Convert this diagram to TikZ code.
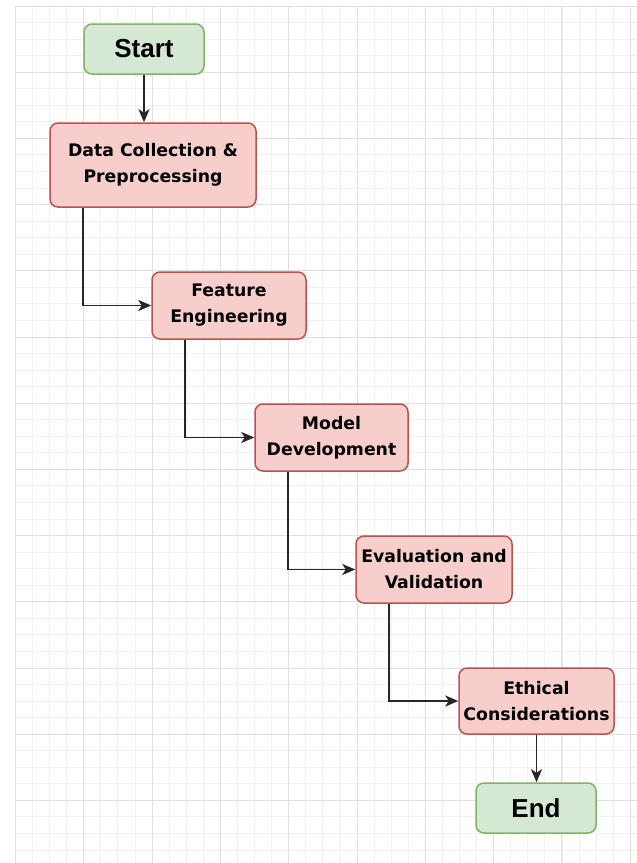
\documentclass[tikz,border=0pt]{standalone}
\usepackage{fontspec}
\setmainfont{DejaVu Sans}
\newfontfamily\endsfont{Liberation Sans}
\usetikzlibrary{positioning,arrows.meta}
\definecolor{stepfill}{HTML}{F8CECC}
\definecolor{stepline}{HTML}{B85450}
\definecolor{termfill}{HTML}{D5E8D4}
\definecolor{termline}{HTML}{82B366}
\tikzset{
  gridminor/.style={draw=black!6,line width=1pt},
  gridmajor/.style={draw=black!12,line width=1pt},
  stepbox/.style={rectangle,rounded corners=8pt,draw=stepline,fill=stepfill,line width=1.5pt,
    minimum width=155pt,minimum height=67pt,inner sep=0pt,align=center,
    font=\fontsize{17.3}{26}\selectfont\bfseries},
  termbox/.style={rectangle,rounded corners=8pt,draw=termline,fill=termfill,line width=1.5pt,
    minimum width=120pt,minimum height=50pt,inner sep=0pt,
    font=\endsfont\fontsize{26}{30}\selectfont\bfseries},
  flow/.style={draw=black!85,line width=1.9pt,-{Stealth[length=13pt,width=11pt,inset=3.5pt]}}
}

\begin{document}
\begin{tikzpicture}[x=1pt,y=-1pt]
\useasboundingbox[fill=white] (0,0) rectangle (637,863);
\foreach \i in {0,...,36} \draw[gridminor] ({15.5+17.08*\i},6)--({15.5+17.08*\i},863);
\foreach \j in {0,...,51} \draw[gridminor] (15.5,{6+16.55*\j})--(637,{6+16.55*\j});
\foreach \i in {0,...,9} \draw[gridmajor] ({15.5+68.3*\i},6)--({15.5+68.3*\i},863);
\foreach \j in {0,...,12} \draw[gridmajor] (15.5,{6+66.2*\j})--(637,{6+66.2*\j});

\node[termbox] (start) at (144,49) {Start};
\node[stepbox,minimum width=206pt,minimum height=84pt] (data) at (153,165) {Data Collection \&\\Preprocessing};
\node[stepbox,minimum width=154pt] (feature) at (229,305.5) {Feature\\Engineering};
\node[stepbox,minimum width=153pt] (model) at (331.5,437.5) {Model\\Development};
\node[stepbox,minimum width=156pt] (eval) at (434,569.5) {Evaluation and\\Validation};
\node[stepbox,minimum height=66pt] (ethics) at (536.5,701) {Ethical\\Considerations};
\node[termbox] (end) at (536,808) {End};

\draw[flow] (start.south)--(start.south |- data.north);
\draw[flow] ([xshift=34pt]data.south west) |- (feature.west);
\draw[flow] ([xshift=34pt]feature.south west) |- (model.west);
\draw[flow] ([xshift=34pt]model.south west) |- (eval.west);
\draw[flow] ([xshift=34pt]eval.south west) |- (ethics.west);
\draw[flow] (ethics.south)--(ethics.south |- end.north);
\end{tikzpicture}
\end{document}
